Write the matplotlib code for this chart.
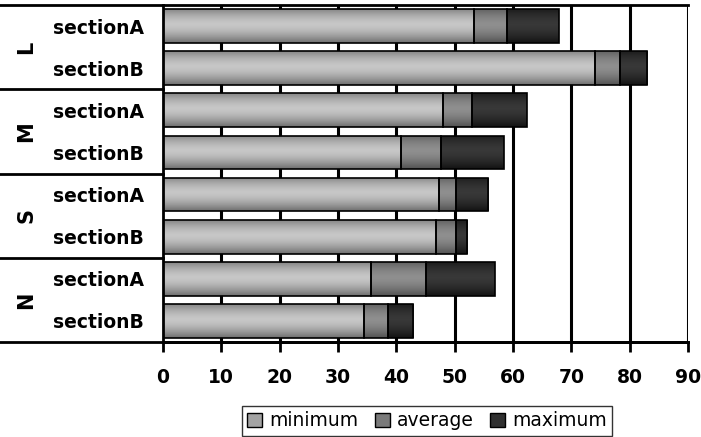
import numpy as np
import matplotlib
matplotlib.use("Agg")
import matplotlib.pyplot as plt
from matplotlib.patches import Patch

# rows listed top to bottom
groups = ["L", "M", "S", "N"]
sections = ["sectionA", "sectionB"]
minimum = [53.3, 74.1, 48.0, 40.8, 47.3, 46.8, 35.6, 34.5]
average = [59.0, 78.3, 53.0, 47.7, 50.2, 50.2, 45.1, 38.6]
maximum = [67.9, 83.0, 62.4, 58.5, 55.7, 52.1, 56.9, 42.9]
xticks = [0, 10, 20, 30, 40, 50, 60, 70, 80, 90]

series = ["minimum", "average", "maximum"]
# (edge shade, centre shade) for the cylinder-like gradient
shades = {"minimum": (0.40, 0.78), "average": (0.30, 0.56), "maximum": (0.06, 0.22)}

fig = plt.figure(figsize=(7.01, 4.37), dpi=100)
ax = fig.add_axes([163 / 701, 1 - 342 / 437, 525 / 701, 337 / 437])

n = len(minimum)
y = np.arange(n)[::-1]
height = 0.8

mins = np.array(minimum)
avgs = np.array(average)
maxs = np.array(maximum)
widths = {"minimum": mins, "average": avgs - mins, "maximum": maxs - avgs}
lefts = {"minimum": np.zeros(n), "average": mins, "maximum": avgs}

t = np.linspace(0, 1, 64)
profile = np.clip(1 - np.abs((t - 0.55) / 0.58) ** 1.6, 0, 1)

def gradient(name):
    lo, hi = shades[name]
    g = lo + (hi - lo) * profile
    return np.repeat(g[:, None, None], 3, axis=2)

for name in series:
    bars = ax.barh(y, widths[name], left=lefts[name], height=height,
                   color="none", edgecolor="black", linewidth=1.2, zorder=3)
    img = gradient(name)
    for b in bars:
        x0, y0 = b.get_x(), b.get_y()
        im = ax.imshow(img, extent=(x0, x0 + b.get_width(), y0, y0 + b.get_height()),
                       origin="lower", aspect="auto", zorder=2, interpolation="bilinear")
        im.set_clip_path(b)

ax.set_xlim(0, 90)
ax.set_ylim(-0.5, n - 0.5)

# vertical grid
for xv in xticks[1:]:
    ax.axvline(xv, color="black", linewidth=2.2, zorder=1)

for s in ["right", "top"]:
    ax.spines[s].set_visible(False)
ax.spines["left"].set_linewidth(2)
ax.spines["bottom"].set_linewidth(2)

ax.set_xticks(xticks)
ax.set_xticklabels([str(v) for v in xticks], fontsize=13.5, fontweight="bold")
ax.tick_params(axis="x", direction="out", length=7, width=2, pad=12)

ax.set_yticks(y)
ax.set_yticklabels(sections * len(groups), fontsize=13.5, fontweight="bold")
ax.tick_params(axis="y", length=0, pad=14)

# group separators and group labels
tr = ax.get_yaxis_transform()
x_left = -163 / 525
for k in range(len(groups) + 1):
    yb = n - 0.5 - 2 * k
    x_end = 1.0 if k in (0, len(groups)) else 0.0
    ax.plot([x_left, x_end], [yb, yb], color="black", linewidth=2,
            transform=tr, clip_on=False, zorder=4)
for k, g in enumerate(groups):
    ax.text(-137 / 525, n - 1.5 - 2 * k, g, transform=tr, rotation=90,
            ha="center", va="center", fontsize=15, fontweight="bold")

handles = [Patch(facecolor=str(np.mean(shades[s]) + 0.05), edgecolor="black", linewidth=1)
           for s in series]
leg = fig.legend(handles, series, loc="center", bbox_to_anchor=(427 / 701, 1 - 421 / 437),
                 ncol=3, frameon=True, fancybox=False, fontsize=13.5,
                 handlelength=0.8, handleheight=0.8, handletextpad=0.35,
                 columnspacing=0.9, borderpad=0.3, borderaxespad=0)
leg.get_frame().set_edgecolor("black")
leg.get_frame().set_linewidth(1)

fig.savefig("out.png", dpi=100)
